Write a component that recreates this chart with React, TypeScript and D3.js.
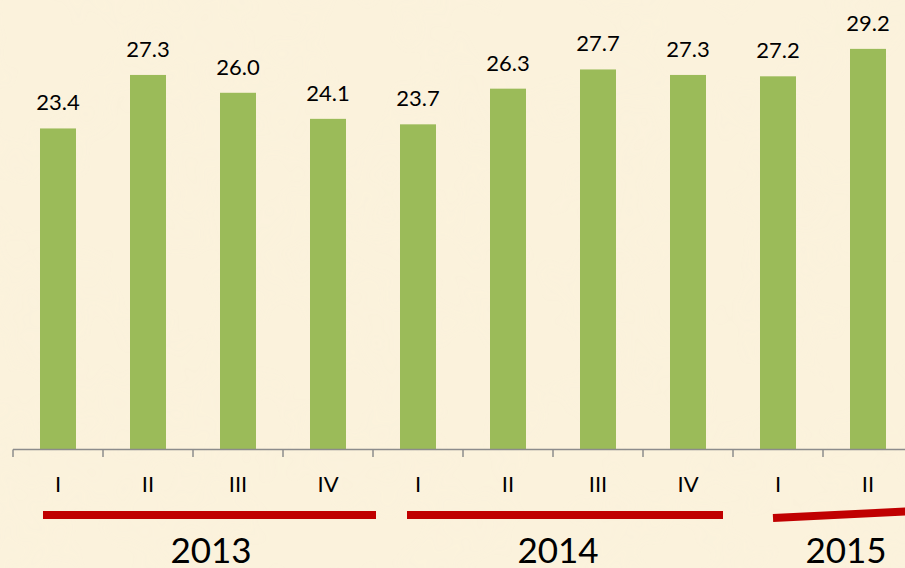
import React from "react";
import * as d3 from "d3";

// quarterly values
const quarters = ["I", "II", "III", "IV", "I", "II", "III", "IV", "I", "II"];
const values = [23.4, 27.3, 26.0, 24.1, 23.7, 26.3, 27.7, 27.3, 27.2, 29.2];
const years = ["2013", "2014", "2015"];

const width = 905;
const height = 568;
const baseline = 449.5;

const App: React.FC = () => {
  const keys = quarters.map((q, i) => `${i}`);

  const xScale = d3
    .scaleBand<string>()
    .domain(keys)
    .range([13, 913])
    .paddingInner(0.6)
    .paddingOuter(0.3);

  const yScale = d3.scaleLinear().domain([0, 30]).range([baseline, baseline - 30 * 13.72]);

  const step = xScale.step();
  const left = (i: number) => (xScale(keys[i]) as number) - step * 0.3;

  // red underline + year caption per group (hand drawn in the original)
  const groups = [
    { year: years[0], x1: left(0) + 30, x2: left(4) + 3, y1: 515, y2: 515, tx: left(0) + 198 },
    { year: years[1], x1: left(4) + 34, x2: left(8) - 10, y1: 515, y2: 515, tx: left(4) + 185 },
    { year: years[2], x1: left(8) + 40, x2: width + 2, y1: 518, y2: 511.5, tx: left(8) + 113 },
  ];

  const font = "Lato, 'Open Sans', sans-serif";

  return (
    <svg
      width={width}
      height={height}
      style={{ position: "absolute", left: 0, top: 0, display: "block" }}
      fontFamily={font}
    >
      <defs>
        <filter id="paper" x="0" y="0" width="100%" height="100%">
          <feTurbulence type="fractalNoise" baseFrequency="0.012" numOctaves="3" seed="4" />
          <feColorMatrix
            type="matrix"
            values="0 0 0 0 0.96  0 0 0 0 0.88  0 0 0 0 0.72  0 0 0 1.1 -0.45"
          />
        </filter>
      </defs>
      <rect width={width} height={height} fill="#FBF2DC" />
      <rect width={width} height={height} filter="url(#paper)" opacity={0.55} />

      {values.map((v, i) => (
        <g key={i}>
          <rect
            x={xScale(keys[i])}
            y={yScale(v)}
            width={xScale.bandwidth()}
            height={baseline - yScale(v)}
            fill="#9BBB59"
          />
          <text
            x={(xScale(keys[i]) as number) + xScale.bandwidth() / 2}
            y={yScale(v) - 18}
            textAnchor="middle"
            fontSize={22}
            fill="#000"
          >
            {v.toFixed(1)}
          </text>
          <text
            x={(xScale(keys[i]) as number) + xScale.bandwidth() / 2}
            y={492}
            textAnchor="middle"
            fontSize={22}
            fill="#000"
          >
            {quarters[i]}
          </text>
        </g>
      ))}

      <line x1={13} x2={width} y1={baseline} y2={baseline} stroke="#8C8C8C" strokeWidth={1.5} />
      {d3.range(keys.length + 1).map((i) => (
        <line
          key={i}
          x1={left(0) + i * step}
          x2={left(0) + i * step}
          y1={baseline}
          y2={457}
          stroke="#8C8C8C"
          strokeWidth={1.5}
        />
      ))}

      {groups.map((g) => (
        <g key={g.year}>
          <line x1={g.x1} x2={g.x2} y1={g.y1} y2={g.y2} stroke="#C00000" strokeWidth={8} />
          <text x={g.tx} y={563} textAnchor="middle" fontSize={35} fill="#000">
            {g.year}
          </text>
        </g>
      ))}
    </svg>
  );
};

export default App;
